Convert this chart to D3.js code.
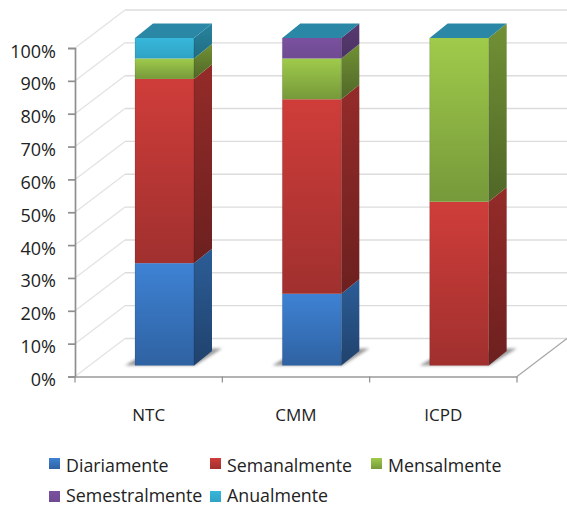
<!DOCTYPE html>
<html>
<head>
<meta charset="utf-8">
<script src="https://cdn.jsdelivr.net/npm/d3@7/dist/d3.min.js"></script>
<style>
html,body{margin:0;padding:0;background:#fff;overflow:hidden}
text{font-family:"Open Sans",sans-serif;fill:#222}
</style>
</head>
<body>
<svg id="chart" width="567" height="507"></svg>
<script>
// Survey answers: share of respondents per frequency, by group
const categories = ["NTC", "CMM", "ICPD"];
const seriesNames = ["Diariamente", "Semanalmente", "Mensalmente", "Semestralmente", "Anualmente"];
const diariamente = [31.25, 21.9, 0];
const semanalmente = [56.25, 59.4, 50];
const mensalmente = [6.25, 12.45, 50];
const semestralmente = [0, 6.25, 0];
const anualmente = [6.25, 0, 0];
const yTicks = [0, 10, 20, 30, 40, 50, 60, 70, 80, 90, 100];

// Colours per series: top and bottom of the front face
const frontTop = ["#3e82d4", "#cf3d3a", "#9fcb4b", "#7a519f", "#37b8dc"];
const frontBottom = ["#2f62a2", "#a0302e", "#76993a", "#6f4a92", "#2fa2c4"];
const capColor = "#2a87a5";

const rows = categories.map((c, i) => ({
  category: c,
  Diariamente: diariamente[i],
  Semanalmente: semanalmente[i],
  Mensalmente: mensalmente[i],
  Semestralmente: semestralmente[i],
  Anualmente: anualmente[i]
}));
const stacked = d3.stack().keys(seriesNames)(rows);

const svg = d3.select("#chart");
const defs = svg.append("defs");

// Scales: axis plane, and the plane the front of the bars sits on
const x = d3.scaleBand().domain(categories).range([75, 517]);
const y = d3.scaleLinear().domain([0, 100]).range([376.5, 48]);
const yBar = d3.scaleLinear().domain([0, 100]).range([365.5, 38]);
const wall = { dx: 50, dy: -38 };
const barSide = { dx: 18, dy: -14.5 };
const barInset = 60;
const barWidth = 59;
const barLeft = c => x(c) + barInset;

seriesNames.forEach((s, i) => {
  const front = defs.append("linearGradient").attr("id", "front" + i)
    .attr("x1", 0).attr("x2", 0).attr("y1", 0).attr("y2", 1);
  front.append("stop").attr("offset", 0).attr("stop-color", frontTop[i]);
  front.append("stop").attr("offset", 1).attr("stop-color", frontBottom[i]);
  const side = defs.append("linearGradient").attr("id", "side" + i)
    .attr("x1", 0).attr("x2", 0).attr("y1", 0).attr("y2", 1);
  side.append("stop").attr("offset", 0).attr("stop-color", d3.color(frontTop[i]).darker(0.95));
  side.append("stop").attr("offset", 1).attr("stop-color", d3.color(frontBottom[i]).darker(1.1));
});
defs.append("filter").attr("id", "soft")
  .attr("x", "-20%").attr("y", "-50%").attr("width", "140%").attr("height", "200%")
  .append("feGaussianBlur").attr("stdDeviation", 1.6);

// Back wall, left wall and floor
const grid = svg.append("g").attr("fill", "none");
grid.selectAll(".back").data(yTicks).join("line")
  .attr("x1", 75 + wall.dx).attr("x2", 567)
  .attr("y1", d => y(d) + wall.dy).attr("y2", d => y(d) + wall.dy)
  .attr("stroke", "#dcdcdc").attr("stroke-width", 1.4);
grid.selectAll(".side").data(yTicks).join("line")
  .attr("x1", 75).attr("x2", 75 + wall.dx)
  .attr("y1", d => y(d)).attr("y2", d => y(d) + wall.dy)
  .attr("stroke", "#e2e2e2").attr("stroke-width", 1.2);
grid.append("line")
  .attr("x1", x.range()[1]).attr("y1", y(0))
  .attr("x2", x.range()[1] + wall.dx).attr("y2", y(0) + wall.dy)
  .attr("stroke", "#a6a6a6").attr("stroke-width", 1.2);

// Axes
const yAxis = d3.axisLeft(y).tickValues(yTicks).tickFormat(d => d + "%").tickSize(7).tickPadding(12);
const gy = svg.append("g").attr("transform", "translate(75,0)").call(yAxis);
gy.selectAll("path,line").attr("stroke", "#8f8f8f").attr("stroke-width", 1.7);
gy.selectAll("text").attr("font-size", 18).attr("fill", "#222").attr("dy", "0.5em");

const xAxis = d3.axisBottom(x).tickSize(0).tickPadding(32);
const gx = svg.append("g").attr("transform", `translate(0,${y(0)})`).call(xAxis);
gx.select("path").attr("stroke", "#9a9a9a").attr("stroke-width", 1.6);
gx.selectAll("text").attr("font-size", 17).attr("fill", "#222");
svg.append("g").selectAll("line")
  .data(categories.map(c => x(c)).concat(x.range()[1]))
  .join("line")
  .attr("x1", d => d).attr("x2", d => d)
  .attr("y1", y(0)).attr("y2", y(0) + 6)
  .attr("stroke", "#8f8f8f").attr("stroke-width", 1.2);

// Floor shadow under each bar
const shadows = svg.append("g").attr("filter", "url(#soft)");
categories.forEach(c => {
  const l = barLeft(c), b = yBar(0);
  const pts = [[l - 10, b], [l, b - 6], [l + barWidth + barSide.dx, b - 17], [l + barWidth + barSide.dx + 10, b - 17], [l + barWidth + 1, b]];
  shadows.append("polygon").attr("points", pts.join(" ")).attr("fill", "#9a9a9a");
});

// Bars: side face, front face and a cap over the whole stack
const bars = svg.append("g");
stacked.forEach((layer, i) => {
  layer.forEach(d => {
    if (d[1] - d[0] <= 0) return;
    const c = d.data.category, l = barLeft(c), t = yBar(d[1]), b = yBar(d[0]), r = l + barWidth;
    bars.append("polygon")
      .attr("points", [[r, t], [r + barSide.dx, t + barSide.dy], [r + barSide.dx, b + barSide.dy], [r, b]].join(" "))
      .attr("fill", `url(#side${i})`);
    bars.append("rect")
      .attr("x", l).attr("y", t).attr("width", barWidth).attr("height", b - t)
      .attr("fill", `url(#front${i})`);
  });
});
categories.forEach(c => {
  const l = barLeft(c), t = yBar(100), r = l + barWidth;
  bars.append("polygon")
    .attr("points", [[l, t], [l + barSide.dx, t + barSide.dy], [r + barSide.dx, t + barSide.dy], [r, t]].join(" "))
    .attr("fill", capColor);
  bars.append("line")
    .attr("x1", l).attr("x2", l).attr("y1", t).attr("y2", yBar(0))
    .attr("stroke", "#000").attr("stroke-opacity", 0.12).attr("stroke-width", 1);
  bars.append("line")
    .attr("x1", r).attr("x2", r).attr("y1", t).attr("y2", yBar(0))
    .attr("stroke", "#000").attr("stroke-opacity", 0.14).attr("stroke-width", 1);
});

// Legend, wrapped on two rows
const legendCols = [49, 210, 371];
const legendSwatchY = [458, 491];
const legendBaseline = [471.5, 502];
const legendItems = seriesNames.map((s, i) => ({
  name: s, i,
  x: legendCols[i < 3 ? i : i - 3],
  row: i < 3 ? 0 : 1
}));
const legend = svg.append("g").selectAll("g").data(legendItems).join("g")
  .attr("transform", d => `translate(${d.x},0)`);
legend.append("rect")
  .attr("x", 0).attr("y", d => legendSwatchY[d.row]).attr("width", 11).attr("height", 11)
  .attr("fill", d => `url(#front${d.i})`);
legend.append("text")
  .attr("x", 17).attr("y", d => legendBaseline[d.row])
  .attr("font-size", 17.8)
  .text(d => d.name);
</script>
</body>
</html>
